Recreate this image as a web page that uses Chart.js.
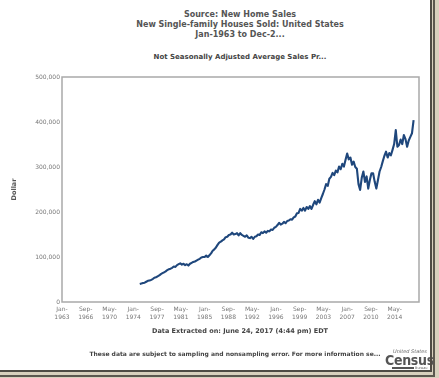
<!DOCTYPE html>
<html>
<head>
<meta charset="utf-8">
<script src="https://cdn.jsdelivr.net/npm/chart.js@4/dist/chart.umd.min.js"></script>
<style>
  html, body { margin: 0; padding: 0; }
  body { width: 439px; height: 378px; background: #d8d0bd; position: relative; overflow: hidden; font-family: "DejaVu Sans", Verdana, sans-serif; }
  #card { position: absolute; left: 0; top: 0; width: 430px; height: 370px; background: #fff; }
  .bar { position: absolute; }
  .t { position: absolute; white-space: nowrap; transform: translate(-50%, -50%); font-weight: bold; }
  canvas { position: absolute; left: 0; top: 0; }
</style>
</head>
<body>
<div id="card">
  <div class="t" style="left:240px;top:14px;font-size:8px;color:#555;">Source: New Home Sales</div>
  <div class="t" style="left:240px;top:24px;font-size:8px;color:#555;">New Single-family Houses Sold: United States</div>
  <div class="t" style="left:240px;top:34px;font-size:8px;color:#555;">Jan-1963 to Dec-2...</div>
  <div class="t" style="left:240px;top:57px;font-size:7px;color:#444;">Not Seasonally Adjusted Average Sales Pr...</div>
  <canvas id="c" width="430" height="370"></canvas>
  <div class="t" style="left:240px;top:331px;font-size:6.5px;color:#444;">Data Extracted on: June 24, 2017 (4:44 pm) EDT</div>
  <div class="t" style="left:235px;top:353px;font-size:6px;color:#444;">These data are subject to sampling and nonsampling error. For more information se...</div>
  <div style="position:absolute;left:393px;top:348px;font-size:5px;font-style:italic;color:#666;white-space:nowrap;">United States</div>
  <div style="position:absolute;left:385px;top:353px;font-size:14px;font-weight:bold;color:#555;font-family:'Liberation Sans Narrow','DejaVu Sans Condensed',sans-serif;letter-spacing:-0.3px;line-height:14px;">Census</div>
  <div style="position:absolute;left:392px;top:367px;width:22px;height:1.5px;background:#555;"></div>
  <div style="position:absolute;left:415px;top:365.5px;font-size:3.5px;color:#666;">Bureau</div>
</div>
<div class="bar" style="left:430px;top:0;width:2px;height:372px;background:#4e4b44;"></div>
<div class="bar" style="left:433px;top:0;width:2px;height:377px;background:#5b584f;"></div>
<div class="bar" style="left:0;top:370px;width:432px;height:2px;background:#4e4b44;"></div>
<div class="bar" style="left:0;top:375px;width:435px;height:2px;background:#5b584f;"></div>
<script>
// ---- data (quarterly readings, starting Jan-1975) ----
const startYear = 1975;
const avgSalesPrice = [
  40000, 41000, 42000, 43000,   // 1975
  45000, 47000, 48000, 49000,   // 1976
  51000, 54000, 55000, 57000,   // 1977
  59000, 62000, 64000, 66000,   // 1978
  68000, 71000, 73000, 74000,   // 1979
  76000, 79000, 78000, 82000,   // 1980
  84000, 86000, 83000, 85000,   // 1981
  82000, 84000, 81000, 85000,   // 1982
  87000, 89000, 90000, 92000,   // 1983
  94000, 96000, 99000, 100000,  // 1984
  100000, 103000, 100000, 104000, // 1985
  108000, 114000, 117000, 121000, // 1986
  127000, 132000, 134000, 137000, // 1987
  139000, 144000, 145000, 149000, // 1988
  150000, 154000, 150000, 151000, // 1989
  153000, 148000, 153000, 149000, // 1990
  147000, 145000, 148000, 143000, // 1991
  142000, 145000, 140000, 145000, // 1992
  146000, 150000, 149000, 155000, // 1993
  153000, 157000, 154000, 158000, // 1994
  157000, 161000, 160000, 165000, // 1995
  167000, 171000, 176000, 172000, // 1996
  174000, 178000, 175000, 180000, // 1997
  181000, 184000, 183000, 188000, // 1998
  190000, 197000, 198000, 207000, // 1999
  203000, 209000, 203000, 211000, // 2000
  207000, 213000, 207000, 216000, // 2001
  224000, 217000, 227000, 221000, // 2002
  231000, 240000, 250000, 262000, // 2003
  258000, 274000, 278000, 287000, // 2004
  282000, 292000, 288000, 301000, // 2005
  295000, 307000, 301000, 316000, // 2006
  330000, 317000, 321000, 305000, // 2007
  312000, 300000, 296000, 262000, // 2008
  249000, 276000, 290000, 267000, // 2009
  279000, 252000, 271000, 286000, // 2010
  286000, 267000, 252000, 271000, // 2011
  290000, 300000, 313000, 325000, // 2012
  334000, 321000, 331000, 326000, // 2013
  338000, 351000, 382000, 345000, // 2014
  349000, 361000, 351000, 371000, // 2015
  362000, 345000, 359000, 367000, // 2016
  375000, 404000                  // 2017
];
const xTickLabels = ["Jan-1963","Sep-1966","May-1970","Jan-1974","Sep-1977","May-1981","Jan-1985",
  "Sep-1988","May-1992","Jan-1996","Sep-1999","May-2003","Jan-2007","Sep-2010","May-2014"];
const yTickValues = [0, 100000, 200000, 300000, 400000, 500000];

// ---- helpers ----
const monthNames = ["Jan","Feb","Mar","Apr","May","Jun","Jul","Aug","Sep","Oct","Nov","Dec"];
function monthIndex(label) {
  const [m, y] = label.split("-");
  return (parseInt(y, 10) - 1963) * 12 + monthNames.indexOf(m);
}
const tickMonths = xTickLabels.map(monthIndex);
const tickLabelMap = {};
xTickLabels.forEach((l, i) => { const p = l.split("-"); tickLabelMap[tickMonths[i]] = [p[0] + "-", p[1]]; });
const points = avgSalesPrice.map((v, i) => ({ x: (startYear - 1963) * 12 + i * 3, y: v }));

const framePlugin = {
  id: "frame",
  afterDraw(chart) {
    const { ctx, chartArea: a } = chart;
    ctx.save();
    ctx.strokeStyle = "#a9a9a9";
    ctx.lineWidth = 1.5;
    ctx.strokeRect(a.left, a.top, a.right - a.left, a.bottom - a.top);
    ctx.restore();
  }
};

new Chart(document.getElementById("c"), {
  type: "line",
  data: { datasets: [{ data: points, borderColor: "#1f477c", borderWidth: 2.1, pointRadius: 0, tension: 0, fill: false, borderJoinStyle: "round" }] },
  options: {
    responsive: false, animation: false, devicePixelRatio: 1,
    layout: { padding: { left: 10, right: 11, top: 77, bottom: 38 } },
    plugins: { legend: { display: false }, tooltip: { enabled: false } },
    scales: {
      x: {
        type: "linear", min: 0, max: 661,
        grid: { display: false, drawTicks: false },
        border: { display: false },
        afterBuildTicks: (s) => { s.ticks = tickMonths.map(v => ({ value: v })); },
        afterFit: (s) => { s.height = 30; },
        ticks: {
          autoSkip: false, maxRotation: 0, minRotation: 0, padding: 3,
          color: "#777", font: { family: "DejaVu Sans", size: 6, lineHeight: 1.35 },
          callback: (v) => tickLabelMap[v] || ""
        }
      },
      y: {
        min: 0, max: 500000,
        grid: { display: false, drawTicks: false },
        border: { display: false },
        afterBuildTicks: (s) => { s.ticks = yTickValues.map(v => ({ value: v })); },
        afterFit: (s) => { s.width = 52; },
        ticks: {
          padding: 2, color: "#777", font: { family: "DejaVu Sans", size: 6 },
          callback: (v) => v.toLocaleString("en-US")
        },
        title: { display: true, text: "Dollar", color: "#555", padding: 0, font: { family: "DejaVu Sans", size: 6.5, weight: "bold" } }
      }
    }
  },
  plugins: [framePlugin]
});
</script>
</body>
</html>
